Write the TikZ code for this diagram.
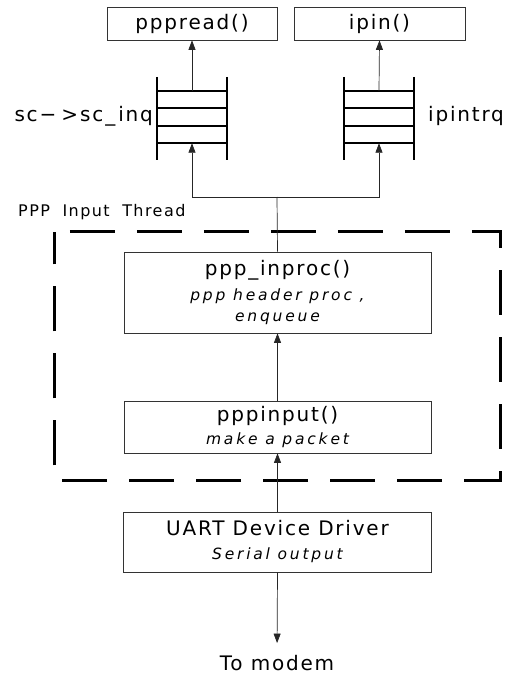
\documentclass[tikz,border=0pt]{standalone}
\usepackage{fontspec}
\setmainfont{DejaVu Sans}
\newfontfamily\labfont{DejaVu Sans}[LetterSpace=9]
\newfontfamily\itlfont{DejaVu Sans}[LetterSpace=18]
\usetikzlibrary{arrows.meta,calc}
\newcommand\mainsz{\labfont\fontsize{20}{24}\selectfont}
\newcommand\itsz{\itlfont\itshape\fontsize{15.5}{21}\selectfont}
\newcommand\thrsz{\labfont\fontsize{16}{20}\selectfont}
\begin{document}
\begin{tikzpicture}[x=1pt,y=-1pt,
  box/.style={draw=black!80, line width=0.7pt, inner sep=0pt, align=center, font=\fontsize{15.5}{21}\selectfont},
  arr/.style={-{Triangle[length=9.5pt,width=7pt]}, line width=0.7pt, draw=black!85},
  plain/.style={line width=0.7pt, draw=black!85},
  thread/.style={draw=black, line width=3pt, dash pattern=on 45pt off 22pt, dash phase=52pt},
  qline/.style={line width=1.6pt},
  queue/.style={minimum width=70pt, minimum height=52pt, inner sep=0pt}]
\useasboundingbox (0,0) rectangle (507,677);

% top boxes
\node[box, minimum width=170pt, minimum height=33pt] (pppread) at (192,23.5) {\mainsz pppread()};
\node[box, minimum width=171pt, minimum height=33pt] (ipin) at (379.5,23.5) {\mainsz ipin()};

% queues
\node[queue] (qL) at (192,117) {};
\node[queue] (qR) at (379,117) {};
\foreach \q in {qL,qR}{
  \foreach \d in {0,17,35,52}{
    \draw[qline] ($(\q.north west)+(0,\d)$) -- ($(\q.north east)+(0,\d)$);
  }
  \draw[qline] ($(\q.north west)+(0,-14)$) -- ($(\q.south west)+(0,17)$);
  \draw[qline] ($(\q.north east)+(0,-14)$) -- ($(\q.south east)+(0,17)$);
}
\node[anchor=base east, inner sep=0pt] (lblL) at (153,121)
  {\mainsz sc−\hspace{5pt}>\hspace{2pt}sc\hspace{2pt}\_\hspace{3pt}inq};
\node[anchor=base west, inner sep=0pt] (lblR) at (428,121) {\mainsz ipintrq};

% thread frame
\node[minimum width=445pt, minimum height=248pt, inner sep=0pt] (thr) at (277.5,356) {};
\draw[thread] (thr.north west) -- (thr.north east) -- (thr.south east) -- (thr.south west) -- cycle;
\node[anchor=west, inner sep=0pt] (thrlbl) at (18,212) {\thrsz PPP\hspace{6pt} Input\hspace{6pt} Thread};

% inner boxes
\node[box, minimum width=307pt, minimum height=81pt] (inproc) at (277.5,292.5)
  {\mainsz ppp\_inproc()\\[4pt] \itsz ppp header proc ,\\ \itsz enqueue};
\node[box, minimum width=307pt, minimum height=52pt] (pppinput) at (277.5,427)
  {\mainsz pppinput()\\[2pt] \itsz make a packet};
\node[box, minimum width=308pt, minimum height=60pt] (uart) at (277.5,542)
  {\mainsz UART Device Driver\\[3pt] \itsz Serial output};
\node[inner sep=0pt] (modem) at (277,663) {\mainsz To modem};

% connectors
\coordinate (j) at (277,197);
\draw[plain] (inproc.north) -- (j);
\draw[arr] (j) -| (qL.south);
\draw[arr] (j) -| (qR.south);
\draw[arr] (qL.north) -- (pppread.south);
\draw[arr] (qR.north) -- (ipin.south);
\draw[arr] (pppinput.north) -- (inproc.south);
\draw[arr] (uart.north) -- (pppinput.south);
\draw[arr, shorten >=12pt] (uart.south) -- (modem.north);
\end{tikzpicture}
\end{document}
